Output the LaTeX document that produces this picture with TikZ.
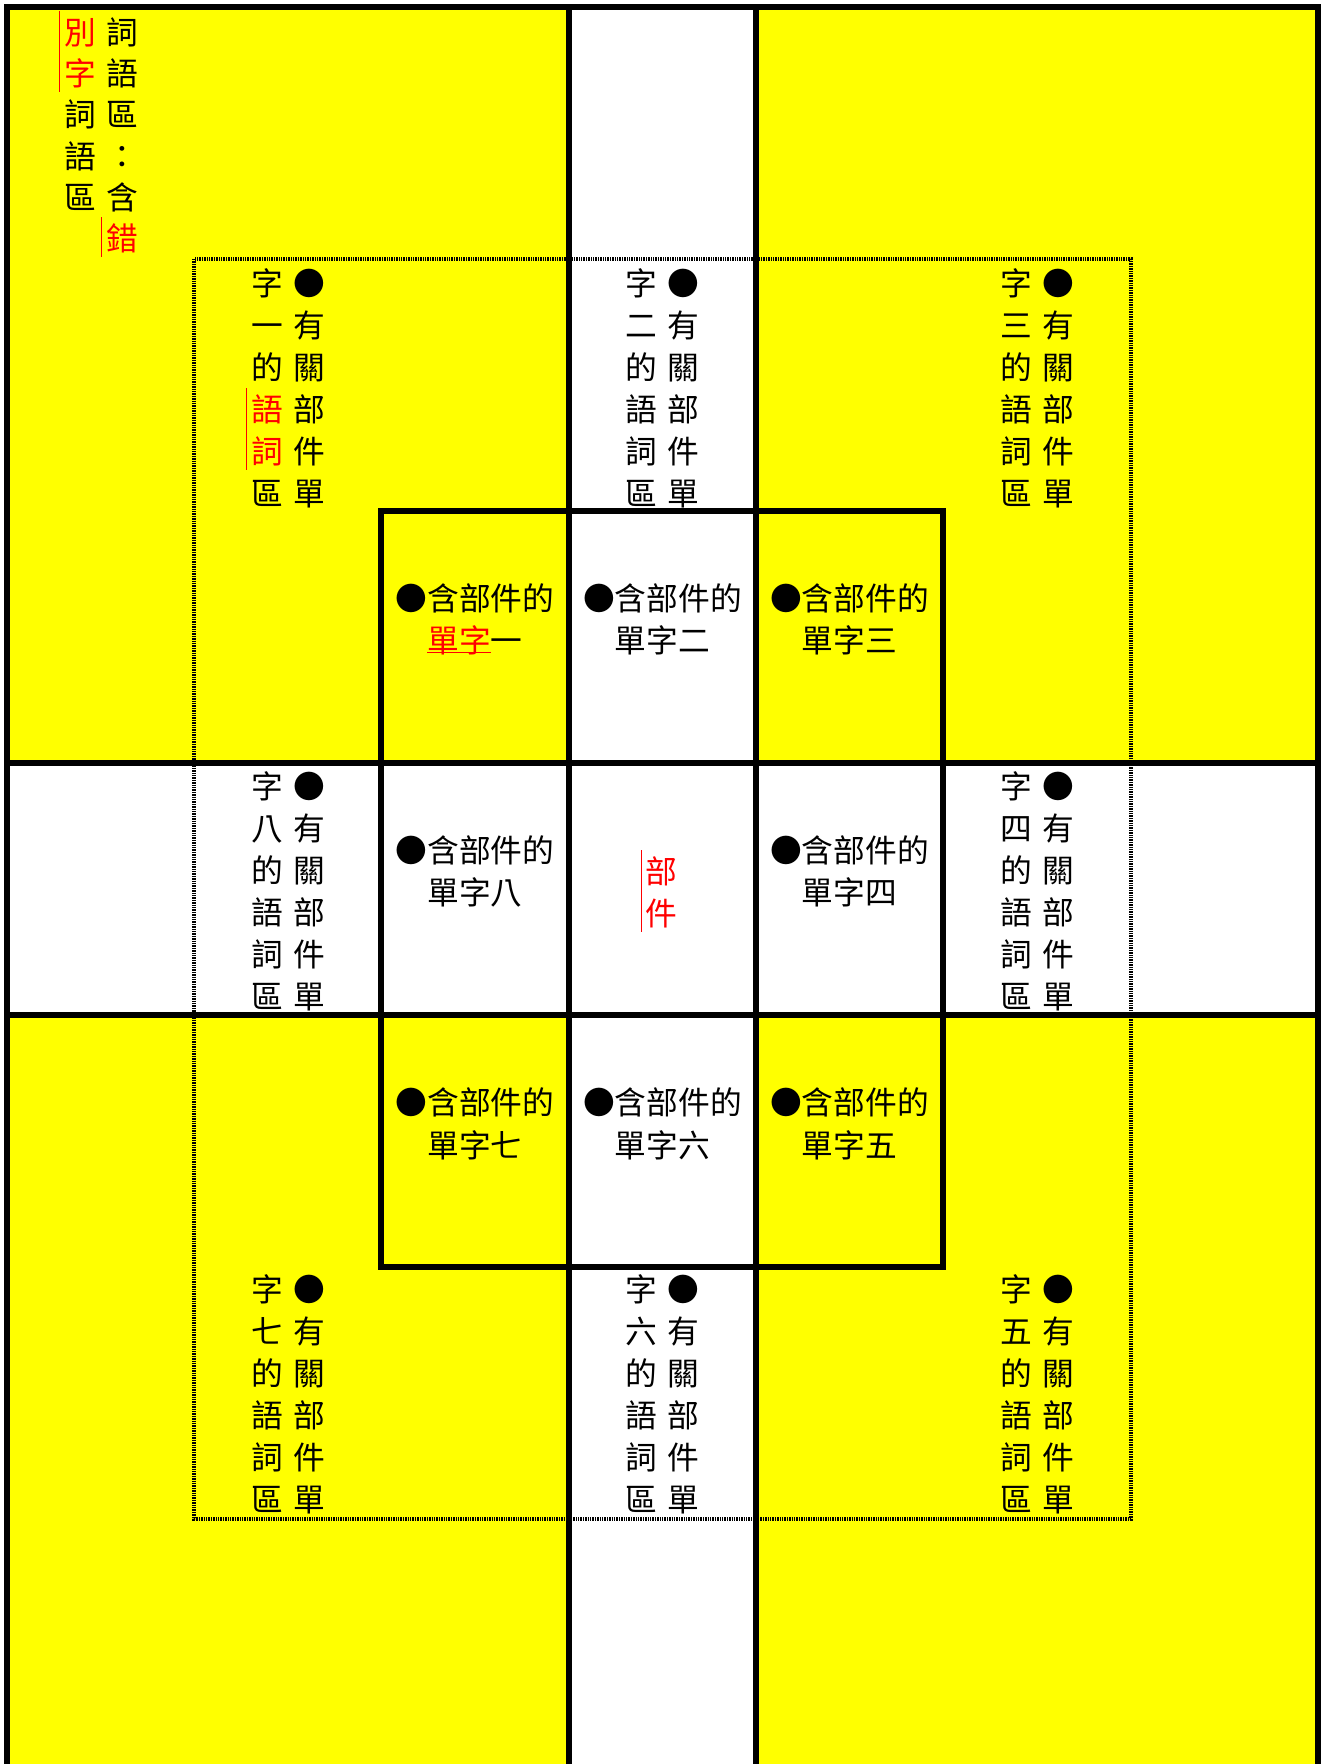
\documentclass[tikz,border=0pt]{standalone}
\usepackage{fontspec}
\newfontfamily\cjk{Noto Sans CJK TC}
\definecolor{zoneyellow}{RGB}{255,255,0}
\tikzset{
  zi/.style={font=\cjk\fontsize{23.8pt}{30pt}\selectfont, inner sep=0pt, text height=21pt, text depth=2.8pt},
  wall/.style={line width=4.5pt},
  dotbox/.style={line width=2.8pt, dash pattern=on 1.1pt off 0.7pt},
  redline/.style={red, line width=0.8pt},
}
% two vertical columns: right one fixed, left one given
\newcommand{\wordzone}[4]{%
  \foreach \ch [count=\i] in {●,有,關,部,件,單}
    \node[zi] (#1-r\i) at (#2+21,#3+\i*42-42) {\ch};
  \foreach \ch [count=\i] in {#4}
    \node[zi] (#1-l\i) at (#2-21,#3+\i*42-42) {\ch};
}

\begin{document}
\begin{tikzpicture}[x=0.75pt,y=-0.75pt]
\useasboundingbox (0,0) rectangle (1322,1764);
% yellow quadrants
\fill[zoneyellow] (7,7) rectangle (569,763);
\fill[zoneyellow] (756,7) rectangle (1318,763);
\fill[zoneyellow] (7,1015) rectangle (569,1764);
\fill[zoneyellow] (756,1015) rectangle (1318,1764);
\draw[dotbox] (194,259) rectangle (1131,1519);
\draw[gray!60, line width=0.6pt] (570,762) rectangle (754,1013);
% thick grid
\draw[wall] (7,1764) -- (7,7) -- (1318,7) -- (1318,1764);
\draw[wall] (569,7) -- (569,1764);
\draw[wall] (756,7) -- (756,1764);
\draw[wall] (7,763) -- (1318,763);
\draw[wall] (7,1015) -- (1318,1015);
\draw[wall] (381,511) rectangle (943,1267);

% corner title
\foreach \ch [count=\i] in {詞,語,區,：,含,{\color{red}錯}}
  \node[zi] (tl-r\i) at (122,32+\i*41.3-41.3) {\ch};
\foreach \ch [count=\i] in {{\color{red}別},{\color{red}字},詞,語,區}
  \node[zi] (tl-l\i) at (80,32+\i*41.3-41.3) {\ch};
\draw[redline] ([xshift=-3pt,yshift=4pt]tl-r6.north west) -- ([xshift=-3pt,yshift=-2pt]tl-r6.south west);
\draw[redline] ([xshift=-3pt,yshift=4pt]tl-l1.north west) -- ([xshift=-3pt,yshift=-2pt]tl-l2.south west);

% word zones
\wordzone{z1}{288}{283.5}{字,一,的,{\color{red}語},{\color{red}詞},區}
\wordzone{z2}{662.5}{283.5}{字,二,的,語,詞,區}
\wordzone{z3}{1037.5}{283.5}{字,三,的,語,詞,區}
\wordzone{z8}{288}{786.5}{字,八,的,語,詞,區}
\wordzone{z4}{1037.5}{786.5}{字,四,的,語,詞,區}
\wordzone{z7}{288}{1289}{字,七,的,語,詞,區}
\wordzone{z6}{662.5}{1289}{字,六,的,語,詞,區}
\wordzone{z5}{1037.5}{1289}{字,五,的,語,詞,區}
\draw[redline] ([xshift=-3pt,yshift=4pt]z1-l4.north west) -- ([xshift=-3pt,yshift=-2pt]z1-l5.south west);

% single characters
\node[zi] (w1a) at (475,598) {●含部件的};
\node[zi] (w1b) at (475,640) {{\color{red}單字}一};
\draw[redline] (w1b.base west) -- ++(63.5,0);
\node[zi] (w2a) at (662.5,598) {●含部件的};
\node[zi] (w2b) at (662.5,640) {單字二};
\node[zi] (w3a) at (849.5,598) {●含部件的};
\node[zi] (w3b) at (849.5,640) {單字三};
\node[zi] (w8a) at (475,850.6) {●含部件的};
\node[zi] (w8b) at (475,892) {單字八};
\node[zi] (w4a) at (849.5,850.6) {●含部件的};
\node[zi] (w4b) at (849.5,892) {單字四};
\node[zi] (w7a) at (475,1102.6) {●含部件的};
\node[zi] (w7b) at (475,1145) {單字七};
\node[zi] (w6a) at (662.5,1102.6) {●含部件的};
\node[zi] (w6b) at (662.5,1145) {單字六};
\node[zi] (w5a) at (849.5,1102.6) {●含部件的};
\node[zi] (w5b) at (849.5,1145) {單字五};

% centre
\node[zi, red] (part1) at (661.7,871.7) {部};
\node[zi, red] (part2) at (661.7,913.3) {件};
\draw[redline] ([xshift=-3pt,yshift=4pt]part1.north west) -- ([xshift=-3pt,yshift=-2pt]part2.south west);
\end{tikzpicture}
\end{document}
